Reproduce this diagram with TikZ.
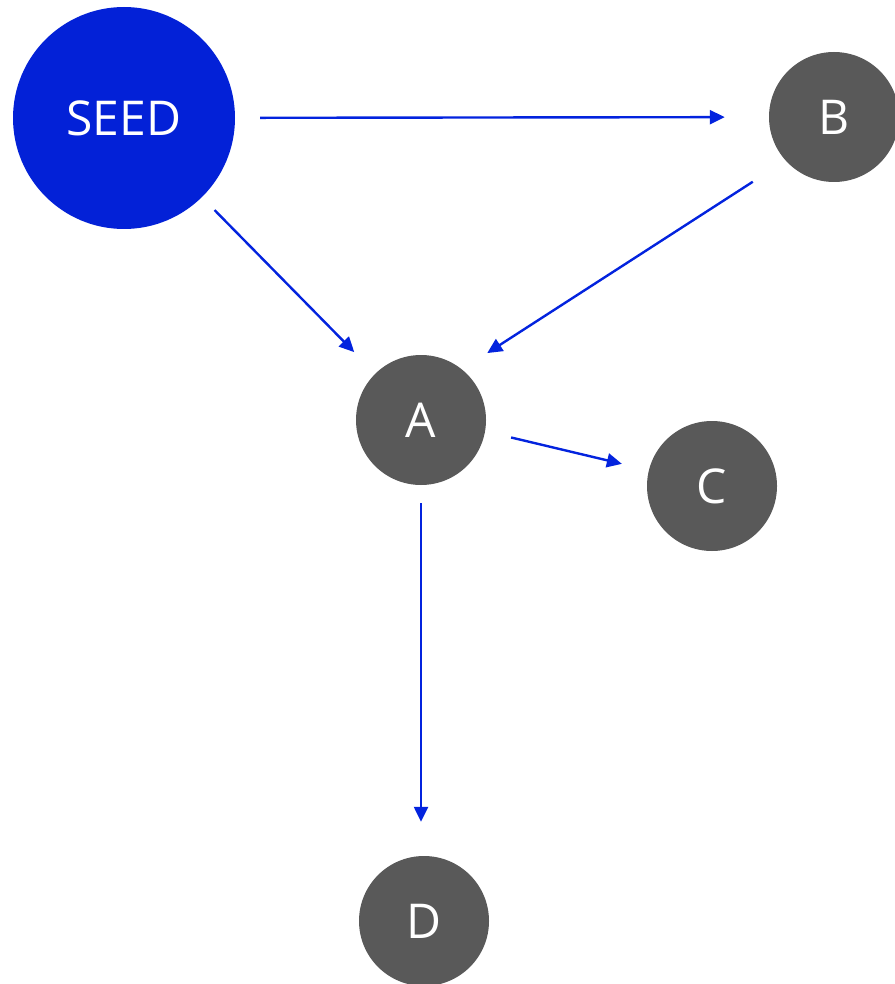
\documentclass[tikz,border=0pt]{standalone}
\usepackage{fontspec}
\setmainfont{Open Sans}
\usetikzlibrary{arrows.meta}
\definecolor{seedblue}{HTML}{0321D7}
\definecolor{edgeblue}{HTML}{0323DE}
\definecolor{nodegrey}{HTML}{595959}
\tikzset{
  seednode/.style={circle, fill=seedblue, text=white, minimum size=222pt, inner sep=0pt, font=\fontsize{48}{56}\selectfont},
  graynode/.style={circle, fill=nodegrey, text=white, minimum size=130pt, inner sep=0pt, font=\fontsize{48}{56}\selectfont},
  edge/.style={draw=edgeblue, line width=2.4pt, -{Triangle[length=15pt,width=14pt]}}
}
\begin{document}
\begin{tikzpicture}[x=1pt,y=-1pt]
  \useasboundingbox (0,0) rectangle (894,984);
  \node[seednode] (seed) at (124,118) {SEED};
  \node[graynode] (b) at (834,117) {B};
  \node[graynode] (a) at (421,420) {A};
  \node[graynode] (c) at (712,486) {C};
  \node[graynode] (d) at (424,921) {D};
  \draw[edge, shorten <=25pt, shorten >=44pt] (seed) -- (b);
  \draw[edge, shorten <=18pt, shorten >=30pt] (seed) -- (a);
  \draw[edge, shorten <=39pt, shorten >=30pt] (b.222) -- (a.51);
  \draw[edge, shorten <=26.6pt, shorten >=27.6pt] (a.350.5) -- (c.166.2);
  \draw[edge, shorten <=18pt, shorten >=34pt] (a.south) -- (a.south |- d.north);
\end{tikzpicture}
\end{document}
